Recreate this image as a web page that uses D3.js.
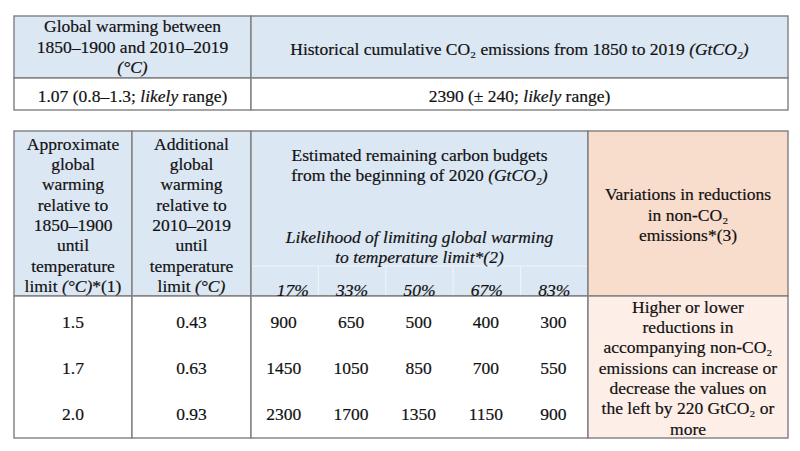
<!DOCTYPE html>
<html><head><meta charset="utf-8">
<script src="https://cdn.jsdelivr.net/npm/d3@7"></script>
<style>body{margin:0;background:#fff}svg{display:block}
text{font-family:"Liberation Serif","Times New Roman",serif;}</style>
</head><body>
<svg id="c" width="800" height="451"></svg>
<script>
// ---- data ----
const likelihoods = ["17%","33%","50%","67%","83%"];
const warmingSince1850 = ["1.5","1.7","2.0"];
const additionalWarming = ["0.43","0.63","0.93"];
const budget17 = [900,1450,2300];
const budget33 = [650,1050,1700];
const budget50 = [500,850,1350];
const budget67 = [400,700,1150];
const budget83 = [300,550,900];
const historicalWarming = "1.07 (0.8–1.3; _likely_ range)";
const historicalEmissions = "2390 (± 240; _likely_ range)";
const topHeaderLeft = ["Global warming between","1850–1900 and 2010–2019","_(°C)_"];
const topHeaderRight = ["Historical cumulative CO₂ emissions from 1850 to 2019 _(GtCO₂)_"];
const col1Header = ["Approximate","global","warming","relative to","1850–1900","until","temperature","limit _(°C)_*(1)"];
const col2Header = ["Additional","global","warming","relative to","2010–2019","until","temperature","limit _(°C)_"];
const budgetHeader = ["Estimated remaining carbon budgets","from the beginning of 2020 _(GtCO₂)_"];
const likelihoodHeader = ["_Likelihood of limiting global warming_","_to temperature limit*(2)_"];
const variationHeader = ["Variations in reductions","in non-CO₂","emissions*(3)"];
const variationText = ["Higher or lower","reductions in","accompanying non-CO₂","emissions can increase or","decrease the values on","the left by 220 GtCO₂ or","more"];

const budgets = [budget17,budget33,budget50,budget67,budget83];

// ---- drawing ----
const svg = d3.select("#c");
const FS = 17.5, LH = 20.3;
const BLUE = "#dce7f4", ORANGE = "#f8dccc", ORANGE_L = "#fdeee7", BORDER = "#7f7f7f";

function textLines(lines, cx, cy) {
  const n = lines.length;
  const y0 = cy - (n-1)*LH/2;
  lines.forEach((ln,i)=>{
    const t = svg.append("text").attr("x",cx).attr("y",y0+i*LH).attr("dy","0.33em")
      .attr("text-anchor","middle").style("font-size",FS+"px")
      .attr("fill","#111").attr("stroke","#111").attr("stroke-width",0.2);
    const parts = ln.split("_");
    parts.forEach((p,j)=>{ if(p.length) t.append("tspan").text(p).style("font-style", (j%2===1)?"italic":"normal"); });
  });
}
function cell(x0,y0,x1,y1,fill){
  svg.append("rect").attr("x",x0).attr("y",y0).attr("width",x1-x0).attr("height",y1-y0)
    .attr("fill",fill).attr("stroke",BORDER).attr("stroke-width",1.4);
}

// Top table
const tX = [14,251,788], tY = [16,78,110];
cell(tX[0],tY[0],tX[1],tY[1],BLUE);
cell(tX[1],tY[0],tX[2],tY[1],BLUE);
cell(tX[0],tY[1],tX[1],tY[2],"#fff");
cell(tX[1],tY[1],tX[2],tY[2],"#fff");
textLines(topHeaderLeft,(tX[0]+tX[1])/2,47);
textLines(topHeaderRight,(tX[1]+tX[2])/2,49);
textLines([historicalWarming],(tX[0]+tX[1])/2,96);
textLines([historicalEmissions],(tX[1]+tX[2])/2,96);

// Bottom table
const bX = [14,132,251,588,788], bY = [131,296,438];
const x = d3.scaleBand().domain(likelihoods).range([bX[2],bX[3]]);
const y = d3.scaleBand().domain(warmingSince1850).range([bY[1]+3,bY[2]-1]);

cell(bX[0],bY[0],bX[1],bY[1],BLUE);
cell(bX[1],bY[0],bX[2],bY[1],BLUE);
cell(bX[2],bY[0],bX[3],bY[1],BLUE);
cell(bX[3],bY[0],bX[4],bY[1],ORANGE);
cell(bX[0],bY[1],bX[1],bY[2],"#fff");
cell(bX[1],bY[1],bX[2],bY[2],"#fff");
cell(bX[2],bY[1],bX[3],bY[2],"#fff");
cell(bX[3],bY[1],bX[4],bY[2],ORANGE_L);

svg.selectAll(".sub").data(likelihoods.slice(1)).join("line")
  .attr("x1",d=>x(d)).attr("x2",d=>x(d)).attr("y1",266).attr("y2",bY[1]-1)
  .attr("stroke","#eef3fa").attr("stroke-width",1.2);
svg.append("line").attr("x1",bX[2]+1).attr("x2",bX[3]-1).attr("y1",266).attr("y2",266)
  .attr("stroke","#eef3fa").attr("stroke-width",1.2);

textLines(col1Header,(bX[0]+bX[1])/2,215);
textLines(col2Header,(bX[1]+bX[2])/2,215);
textLines(budgetHeader,(bX[2]+bX[3])/2,165);
textLines(likelihoodHeader,(bX[2]+bX[3])/2,247);
textLines(variationHeader,(bX[3]+bX[4])/2,215);
likelihoods.forEach(l=>textLines(["_"+l+"_"],x(l)+x.bandwidth()/2+(l==="17%"?8:0),290));

warmingSince1850.forEach((w,i)=>{
  const cy = y(w)+y.bandwidth()/2;
  textLines([w],(bX[0]+bX[1])/2,cy);
  textLines([additionalWarming[i]],(bX[1]+bX[2])/2,cy);
  likelihoods.forEach((l,k)=>textLines([String(budgets[k][i])],x(l)+x.bandwidth()/2-1,cy));
});
textLines(variationText,(bX[3]+bX[4])/2,368);
</script>
</body></html>
